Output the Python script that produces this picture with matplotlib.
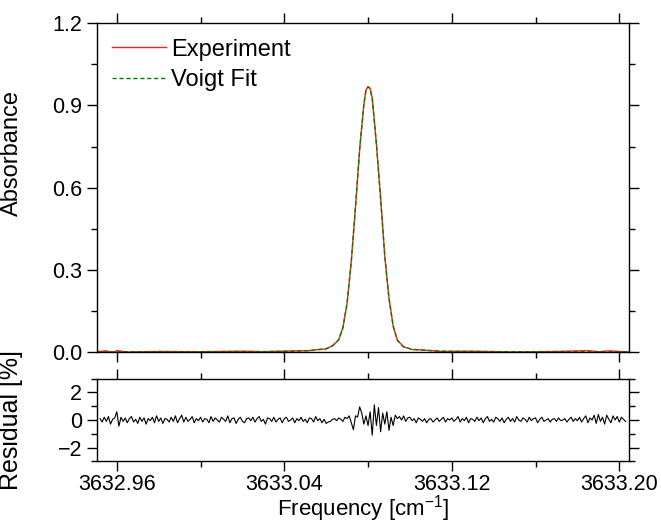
import numpy as np
import matplotlib
matplotlib.use("Agg")
import matplotlib.pyplot as plt
from matplotlib.ticker import MultipleLocator

plt.rcParams['font.family'] = ['Liberation Sans', 'DejaVu Sans']
plt.rcParams['mathtext.fontset'] = 'custom'
plt.rcParams['mathtext.rm'] = 'Liberation Sans'
plt.rcParams['mathtext.it'] = 'Liberation Sans'

# Voigt fit
fit_freq = [3632.950, 3633.000, 3633.030, 3633.045, 3633.052, 3633.056, 3633.060,
            3633.063, 3633.066, 3633.068, 3633.070, 3633.072, 3633.074, 3633.076,
            3633.078, 3633.079, 3633.080, 3633.081, 3633.082, 3633.084, 3633.086,
            3633.088, 3633.090, 3633.092, 3633.094, 3633.097, 3633.101, 3633.105,
            3633.115, 3633.130, 3633.160, 3633.205]
fit_abs = [0.0003, 0.0008, 0.0015, 0.003, 0.005, 0.008, 0.012,
           0.022, 0.045, 0.088, 0.18, 0.33, 0.53, 0.74,
           0.905, 0.955, 0.968, 0.962, 0.925, 0.76, 0.56,
           0.35, 0.195, 0.095, 0.042, 0.018, 0.010, 0.007,
           0.003, 0.0015, 0.0008, 0.0003]

# measured spectrum (sits under the fit, slight noise on the baseline)
exp_freq = [3632.950, 3632.955, 3632.958, 3632.960, 3632.965, 3632.980, 3633.000,
            3633.020, 3633.030, 3633.045, 3633.052, 3633.056, 3633.060, 3633.063,
            3633.066, 3633.068, 3633.070, 3633.072, 3633.074, 3633.076, 3633.078,
            3633.079, 3633.080, 3633.081, 3633.082, 3633.084, 3633.086, 3633.088,
            3633.090, 3633.092, 3633.094, 3633.097, 3633.101, 3633.105, 3633.115,
            3633.130, 3633.150, 3633.170, 3633.185, 3633.190, 3633.195, 3633.205]
exp_abs = [0.001, 0.004, -0.002, 0.005, 0.0, 0.002, 0.001,
           0.003, 0.001, 0.004, 0.005, 0.009, 0.011, 0.023,
           0.044, 0.09, 0.178, 0.332, 0.528, 0.742, 0.903,
           0.956, 0.969, 0.961, 0.927, 0.758, 0.562, 0.348,
           0.197, 0.094, 0.043, 0.019, 0.009, 0.008, 0.002,
           0.003, 0.0, 0.002, 0.005, 0.001, 0.004, 0.0]

# residual in percent, sampled every 0.001 cm-1 from 3632.952
res_start = 3632.952
res_step = 0.001
residual = [
    0.1, -0.15, 0.2, -0.1, 0.25, -0.3, 0.05, 0.15, 0.6, -0.45, 0.2, -0.1,
    0.15, -0.2, 0.1, 0.25, -0.15, 0.05, -0.25, 0.2, -0.1, 0.15, -0.3, 0.1,
    -0.05, 0.2, -0.2, 0.3, -0.1, 0.15, -0.25, 0.1, 0.05, -0.15, 0.2, -0.1,
    0.3, -0.2, 0.1, 0.35, -0.15, 0.2, -0.1, 0.05, 0.25, -0.2, 0.1, -0.05,
    0.2, -0.15, 0.1, 0.05, -0.2, 0.25, -0.1, 0.15, 0.0, -0.15, 0.2, 0.05,
    -0.1, 0.3, -0.2, 0.1, 0.15, -0.25, 0.05, 0.2, -0.1, -0.2, 0.1, 0.15,
    -0.05, 0.2, -0.15, 0.1, 0.25, -0.1, 0.05, -0.3, 0.15, 0.1, -0.1, 0.2,
    -0.15, 0.05, 0.15, -0.2, 0.1, 0.2, -0.1, 0.0, 0.15, -0.2, 0.1, -0.05,
    0.2, -0.1, 0.05, -0.2, 0.15, 0.1, -0.15, 0.25, -0.05, 0.1, -0.2, 0.05,
    -0.25, -0.15, -0.1, 0.05, 0.1, -0.05, 0.15, 0.05, -0.1, 0.2, 0.1, 0.3,
    -0.2, -0.7, 0.3, 0.2, 0.95, 0.5, -0.3, 0.3, -0.4, 0.6, -1.1, 1.1,
    -0.4, 0.9, -0.85, 0.5, -0.3, 0.6, -0.75, 0.2, -0.4, 0.35, 0.1, 0.25,
    0.0, 0.3, -0.1, 0.15, 0.2, -0.05, 0.1, -0.2, 0.15, 0.05, -0.1, 0.1,
    -0.2, 0.05, 0.1, -0.15, 0.0, 0.15, -0.1, 0.05, 0.2, -0.15, 0.1, 0.0,
    0.15, -0.1, 0.05, 0.25, -0.15, 0.1, -0.05, 0.2, -0.2, 0.1, 0.05, -0.1,
    0.2, -0.05, 0.15, -0.2, 0.1, 0.25, -0.1, 0.05, -0.15, 0.2, 0.1, -0.1,
    0.15, -0.2, 0.05, 0.2, -0.1, 0.1, -0.15, 0.25, 0.0, -0.1, 0.15, 0.05,
    -0.15, 0.2, -0.05, 0.1, 0.15, -0.2, 0.05, 0.2, -0.1, 0.0, 0.1, -0.15,
    0.05, 0.1, -0.1, 0.15, -0.05, 0.0, 0.1, -0.15, 0.05, 0.2, -0.1, 0.1,
    -0.05, 0.2, -0.15, 0.1, 0.3, -0.2, 0.15, 0.0, 0.35, -0.25, 0.4, -0.1,
    0.2, -0.3, 0.35, 0.05, -0.2, 0.3, 0.0, 0.25, -0.15, 0.2, 0.05, -0.1,
]
res_freq = res_start + res_step * np.arange(len(residual))

x_ticks = [3632.96, 3633.04, 3633.12, 3633.20]
x_limits = (3632.9504, 3633.2048)

fig = plt.figure(figsize=(6.61, 5.23), dpi=100)
ax = fig.add_axes([0.1463, 0.3270, 0.8058, 0.6285])
axr = fig.add_axes([0.1463, 0.1178, 0.8058, 0.1583])

ax.plot(exp_freq, exp_abs, color='#ff2020', lw=1.0, label='Experiment')
ax.plot(fit_freq, fit_abs, color='#008000', lw=1.0, dashes=(3, 2), label='Voigt Fit')
ax.set_xlim(*x_limits)
ax.set_ylim(0, 1.2)
ax.set_yticks([0.0, 0.3, 0.6, 0.9, 1.2])
ax.yaxis.set_minor_locator(MultipleLocator(0.15))
ax.set_xticks(x_ticks)
ax.xaxis.set_minor_locator(MultipleLocator(0.04))
ax.tick_params(labelbottom=False)
ax.set_ylabel('Absorbance', fontsize=17)
ax.yaxis.set_label_coords(-0.138, 0.604)
ax.legend(loc='upper left', frameon=False, fontsize=17, handlelength=2.3,
          handletextpad=0.2, labelspacing=0.35, borderaxespad=0.25)

axr.plot(res_freq, residual, color='black', lw=0.8)
axr.set_xlim(*x_limits)
axr.set_ylim(-3, 3)
axr.set_yticks([-2, 0, 2])
axr.yaxis.set_minor_locator(MultipleLocator(1))
axr.set_xticks(x_ticks)
axr.set_xticklabels([f'{v:.2f}' for v in x_ticks])
axr.xaxis.set_minor_locator(MultipleLocator(0.04))
axr.set_xlabel(r'Frequency [cm$^{-1}$]', fontsize=16)
axr.xaxis.set_label_coords(0.5, -0.385)
axr.set_ylabel('Residual [%]', fontsize=18)
axr.yaxis.set_label_coords(-0.138, 0.5)

for a in (ax, axr):
    for s in a.spines.values():
        s.set_linewidth(1.0)
    a.tick_params(which='both', direction='out', top=True, right=True,
                  labelsize=15.5, width=1.0, pad=3)
    a.tick_params(which='major', length=7.5)
    a.tick_params(which='minor', length=4.5)
axr.tick_params(axis='x', pad=1.5)

fig.savefig('out.png', dpi=100)
